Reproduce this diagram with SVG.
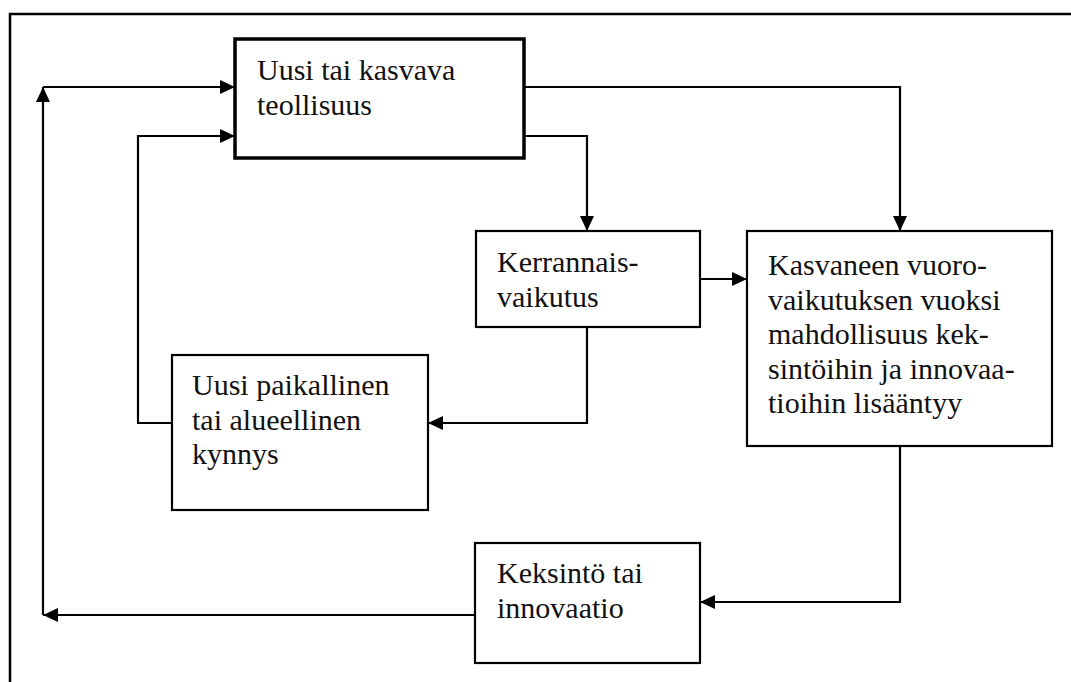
<svg xmlns="http://www.w3.org/2000/svg" width="1071" height="682" viewBox="0 0 1071 682">
<defs>
<marker id="ah" markerUnits="userSpaceOnUse" markerWidth="16" markerHeight="14" refX="15" refY="7" orient="auto">
<path d="M0,0 L15,7 L0,14 Z" fill="#000"/>
</marker>
<style>
.box{fill:#fff;stroke:#000;stroke-width:2.2}
.thick{stroke-width:3.5}
.c{fill:none;stroke:#000;stroke-width:2.2}
.a{marker-end:url(#ah)}
</style>
</defs>
<rect width="1071" height="682" fill="#fff"/>
<path d="M10,682 L10,14 L1071,14" fill="none" stroke="#000" stroke-width="2.5"/>
<g id="connectors">
<path class="c a" d="M475,615 L43,615"/>
<path class="c a" d="M43,615 L43,87"/>
<path class="c a" d="M43,87 L235,87"/>
<path class="c a" d="M172,423 L138,423 L138,136 L235,136"/>
<path class="c a" d="M524,87 L900,87 L900,231"/>
<path class="c a" d="M524,136 L587,136 L587,231"/>
<path class="c a" d="M700,279 L747,279"/>
<path class="c a" d="M587,327 L587,423 L428,423"/>
<path class="c a" d="M900,446 L900,602 L700,602"/>
</g>
<g font-family="Liberation Serif, DejaVu Serif, serif" font-size="30" fill="#111">
<g id="n1">
<rect class="box thick" x="235" y="39" width="289" height="119"/>
<text x="257" y="80">Uusi tai kasvava</text>
<text x="257" y="114.5">teollisuus</text>
</g>
<g id="n2">
<rect class="box" x="476" y="231" width="224" height="96"/>
<text x="497" y="272">Kerrannais-</text>
<text x="497" y="306.5">vaikutus</text>
</g>
<g id="n3">
<rect class="box" x="747" y="231" width="305" height="215"/>
<text x="768" y="275">Kasvaneen vuoro-</text>
<text x="768" y="309.5">vaikutuksen vuoksi</text>
<text x="768" y="344">mahdollisuus kek-</text>
<text x="768" y="378.5">sintöihin ja innovaa-</text>
<text x="768" y="413">tioihin lisääntyy</text>
</g>
<g id="n4">
<rect class="box" x="172" y="355" width="256" height="155"/>
<text x="192" y="395">Uusi paikallinen</text>
<text x="192" y="429.5">tai alueellinen</text>
<text x="192" y="464">kynnys</text>
</g>
<g id="n5">
<rect class="box" x="475" y="543" width="225" height="120"/>
<text x="497" y="583">Keksintö tai</text>
<text x="497" y="617.5">innovaatio</text>
</g>
</g>
</svg>
